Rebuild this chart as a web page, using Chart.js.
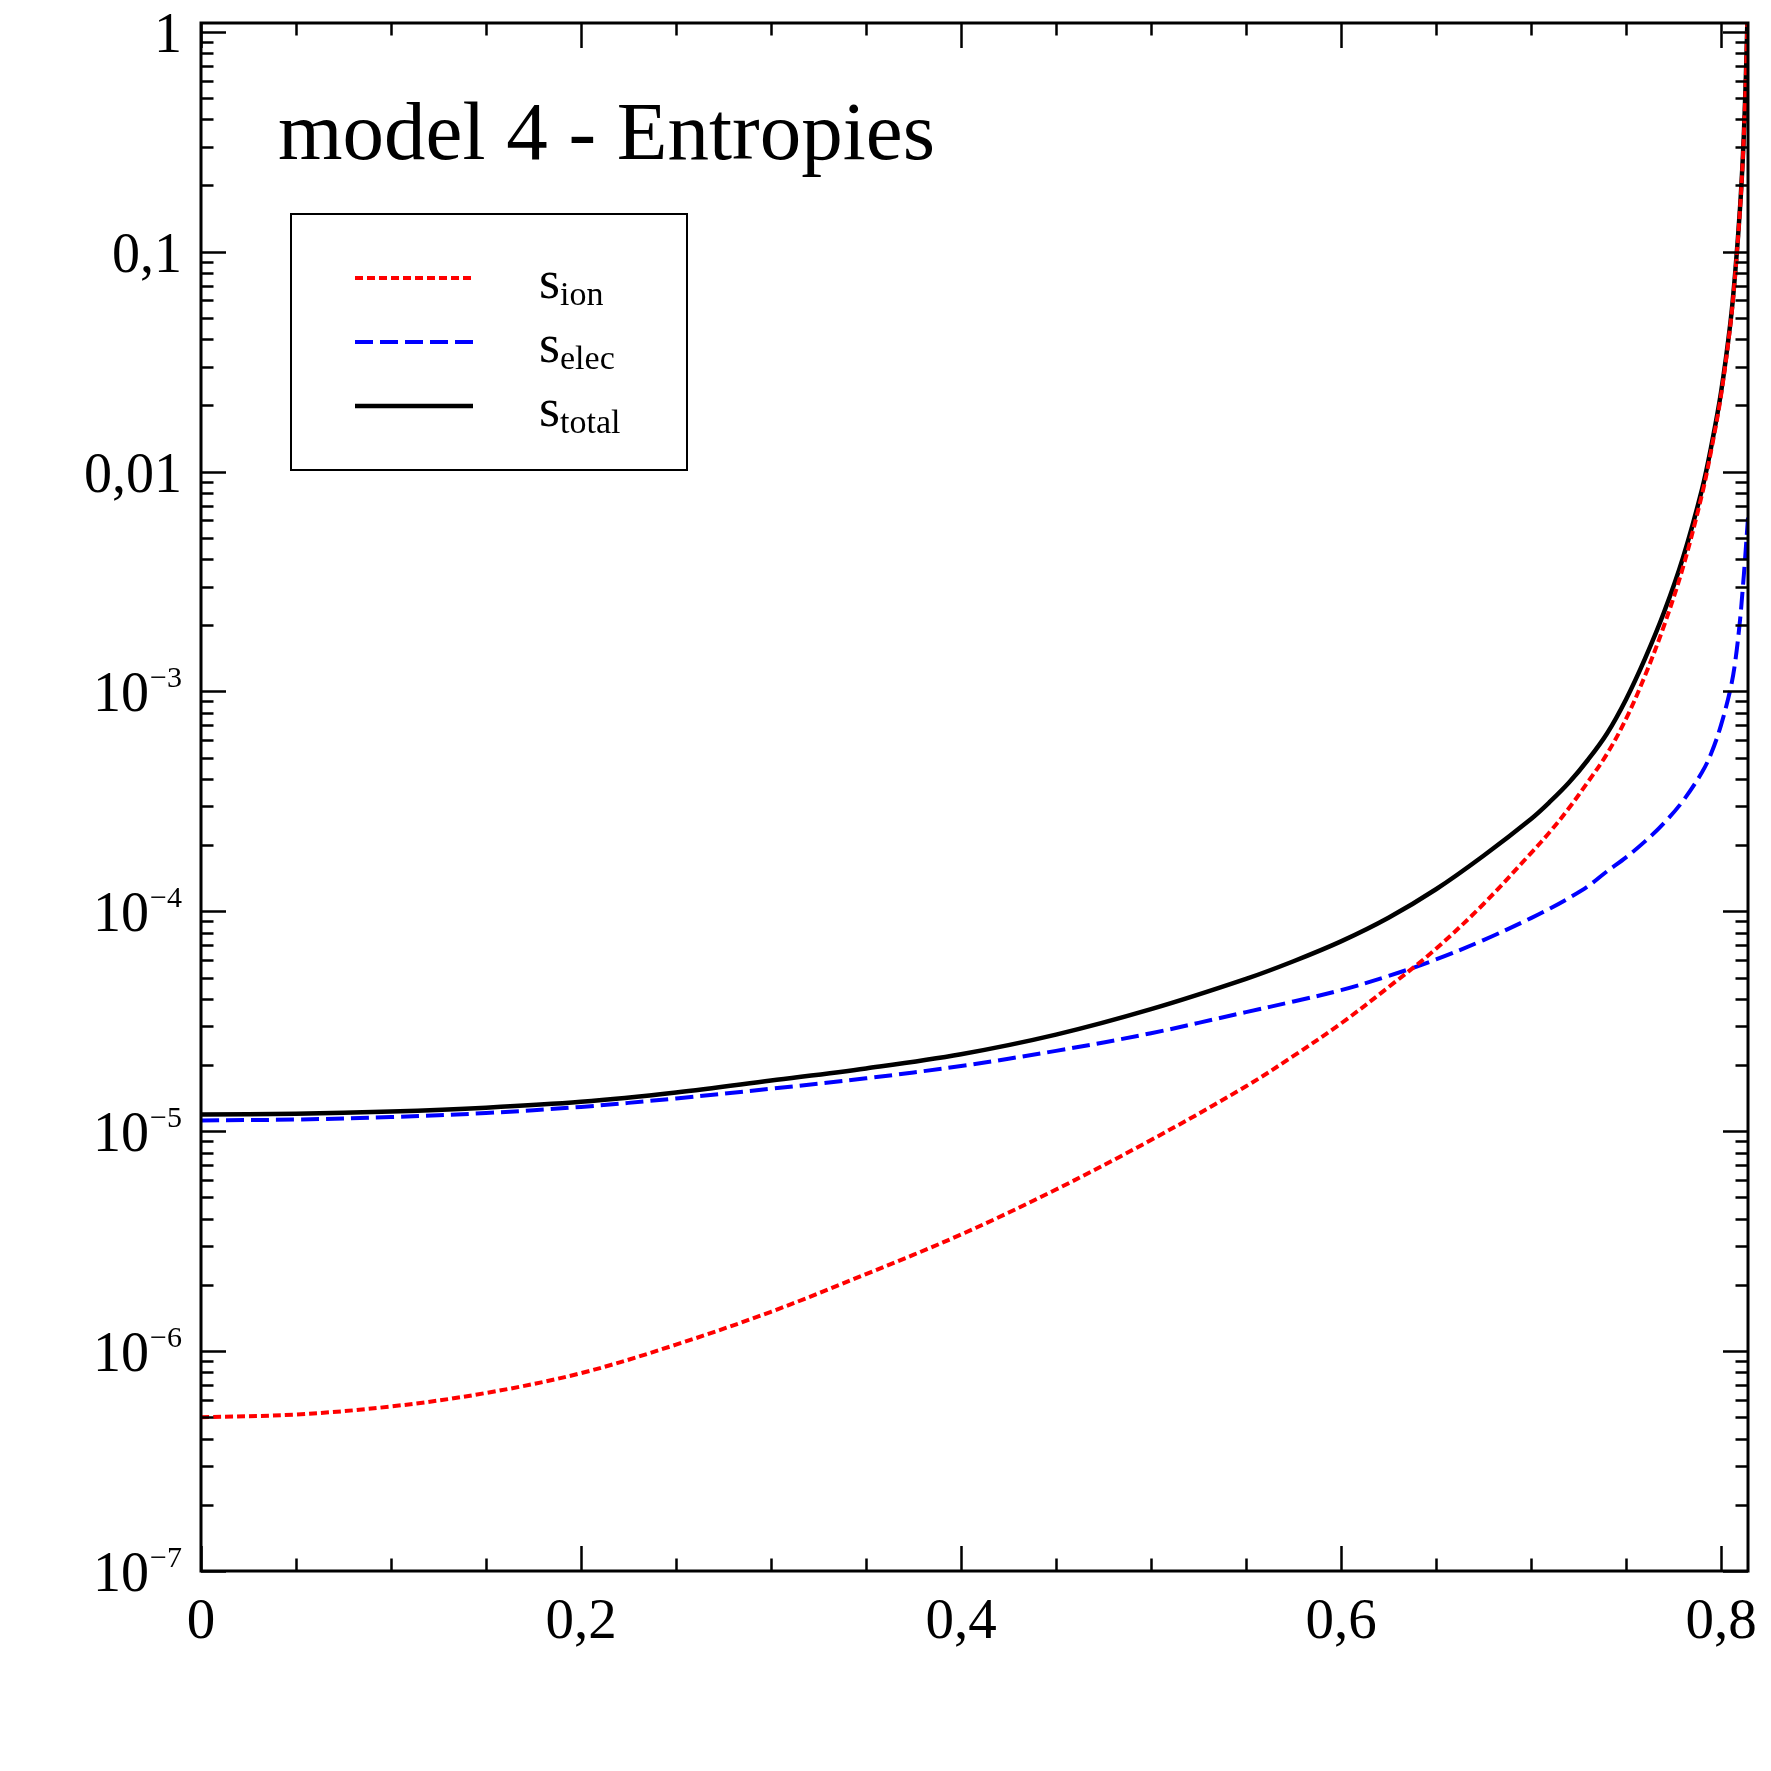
<!DOCTYPE html>
<html lang="en">

<head>
    <meta charset="UTF-8" />
    <title>model 4 - Entropies</title>
    <script src="https://cdn.jsdelivr.net/npm/chart.js"></script>
    <style>
        html, body {
            margin: 0;
            padding: 0;
            background: #fff;
        }

        #grafico {
            display: block;
            width: 1771px;
            height: 1771px;
        }
    </style>
</head>

<body>

    <canvas id="grafico" width="1771" height="1771"></canvas>

    <script>
        // valores
        const xValues = [0, 0.05, 0.1, 0.15, 0.2, 0.25, 0.3, 0.35, 0.4, 0.45, 0.5, 0.55, 0.575, 0.6, 0.625,
            0.65, 0.675, 0.7, 0.71, 0.72, 0.73, 0.74, 0.75, 0.76, 0.77, 0.78, 0.79, 0.795, 0.8, 0.805,
            0.8075, 0.81, 0.8115, 0.8125, 0.8135, 0.8142];

        const sIon = [5.0e-7, 5.15e-7, 5.6e-7, 6.45e-7, 7.94e-7, 1.07e-6, 1.51e-6, 2.24e-6, 3.39e-6, 5.43e-6,
            9.12e-6, 1.6e-5, 2.2e-5, 3.09e-5, 4.52e-5, 6.76e-5, 1.08e-4, 1.84e-4, 2.3e-4, 2.95e-4,
            3.88e-4, 5.2e-4, 7.5e-4, 1.18e-3, 1.99e-3, 3.67e-3, 7.87e-3, 0.0127, 0.0222, 0.047,
            0.0796, 0.156, 0.267, 0.436, 0.825, 1.47];

        const sElec = [1.12e-5, 1.13e-5, 1.16e-5, 1.21e-5, 1.29e-5, 1.41e-5, 1.56e-5, 1.74e-5, 1.98e-5, 2.32e-5,
            2.79e-5, 3.48e-5, 3.89e-5, 4.38e-5, 5.08e-5, 6.04e-5, 7.4e-5, 9.31e-5, 1.03e-4, 1.15e-4,
            1.3e-4, 1.52e-4, 1.76e-4, 2.08e-4, 2.52e-4, 3.18e-4, 4.29e-4, 5.27e-4, 7.03e-4, 1.03e-3,
            1.37e-3, 2.11e-3, 2.98e-3, 3.84e-3, 5.06e-3, 6.17e-3];

        const sTotal = [1.19e-5, 1.2e-5, 1.23e-5, 1.28e-5, 1.36e-5, 1.5e-5, 1.7e-5, 1.93e-5, 2.24e-5, 2.75e-5,
            3.59e-5, 4.93e-5, 5.93e-5, 7.3e-5, 9.35e-5, 1.26e-4, 1.79e-4, 2.63e-4, 3.15e-4, 3.85e-4,
            4.89e-4, 6.44e-4, 9.2e-4, 1.41e-3, 2.29e-3, 4.06e-3, 8.3e-3, 0.0132, 0.0229, 0.048,
            0.081, 0.158, 0.27, 0.44, 0.83, 1.48];

        const seriesSub = ['ion', 'elec', 'total'];

        const xTickValues = [0, 0.2, 0.4, 0.6, 0.8];
        const xTickLabels = ['0', '0,2', '0,4', '0,6', '0,8'];

        const yTickValues = [1, 0.1, 0.01, 1e-3, 1e-4, 1e-5, 1e-6, 1e-7];
        const yTickBase = ['1', '0,1', '0,01', '10', '10', '10', '10', '10'];
        const yTickExp = ['', '', '', '\u22123', '\u22124', '\u22125', '\u22126', '\u22127'];

        const tituloTexto = 'model 4 - Entropies';

        const estilos = [
            { color: '#ff0000', width: 4, dash: [8, 4] },
            { color: '#0000ff', width: 4, dash: [18, 7] },
            { color: '#000000', width: 4.5, dash: [] }
        ];

        const serif = '"Liberation Serif", "DejaVu Serif", serif';

        function puntos(ys) {
            return xValues.map((x, i) => ({ x: x, y: ys[i] }));
        }

        const marco = {
            id: 'marco',
            afterDraw(chart) {
                const c = chart.ctx;
                const a = chart.chartArea;
                const sx = chart.scales.x;
                const sy = chart.scales.y;

                c.save();
                c.strokeStyle = '#000';
                c.fillStyle = '#000';
                c.setLineDash([]);

                // ticks eje y (izquierda y derecha, hacia dentro)
                c.lineWidth = 2.5;
                for (let d = -7; d <= 0; d++) {
                    for (let k = 1; k <= 9; k++) {
                        const v = k * Math.pow(10, d);
                        if (v > sy.max) continue;
                        const py = Math.round(sy.getPixelForValue(v)) + 0.5;
                        const len = k === 1 ? 25 : 12.5;
                        c.beginPath();
                        c.moveTo(a.left, py);
                        c.lineTo(a.left + len, py);
                        c.moveTo(a.right, py);
                        c.lineTo(a.right - len, py);
                        c.stroke();
                    }
                }

                // ticks eje x (abajo y arriba)
                for (let i = 0; i <= 16; i++) {
                    const v = i * 0.05;
                    const px = Math.round(sx.getPixelForValue(v)) + 0.5;
                    const len = i % 4 === 0 ? 25 : 12.5;
                    c.beginPath();
                    c.moveTo(px, a.bottom);
                    c.lineTo(px, a.bottom - len);
                    c.moveTo(px, a.top);
                    c.lineTo(px, a.top + len);
                    c.stroke();
                }

                // marco
                c.lineWidth = 3;
                c.strokeRect(a.left, a.top, a.right - a.left, a.bottom - a.top);

                // etiquetas eje y
                c.textBaseline = 'alphabetic';
                c.textAlign = 'right';
                yTickValues.forEach((v, i) => {
                    const py = sy.getPixelForValue(v);
                    const xr = a.left - 19;
                    if (yTickExp[i]) {
                        c.font = '30px ' + serif;
                        c.fillText(yTickExp[i], xr, py - 4);
                        const w = c.measureText(yTickExp[i]).width;
                        c.font = '56px ' + serif;
                        c.fillText(yTickBase[i], xr - w - 1, py + 20);
                    } else {
                        c.font = '56px ' + serif;
                        c.fillText(yTickBase[i], xr, py + 20);
                    }
                });

                // etiquetas eje x
                c.textAlign = 'center';
                c.font = '57px ' + serif;
                xTickValues.forEach((v, i) => {
                    c.fillText(xTickLabels[i], sx.getPixelForValue(v), a.bottom + 67);
                });

                // titulo
                c.textAlign = 'left';
                c.font = '83px ' + serif;
                c.fillText(tituloTexto, 278, 159);

                // leyenda
                c.lineWidth = 2;
                c.strokeRect(291, 214, 396, 256);
                seriesSub.forEach((sub, i) => {
                    const ly = 278 + i * 64;
                    const e = estilos[i];
                    c.strokeStyle = e.color;
                    c.lineWidth = e.width;
                    c.setLineDash(e.dash);
                    c.beginPath();
                    c.moveTo(355, ly);
                    c.lineTo(473, ly);
                    c.stroke();
                    c.setLineDash([]);
                    c.font = '54px ' + serif;
                    c.fillText('s', 539, ly + 20);
                    const w = c.measureText('s').width;
                    c.font = '34px ' + serif;
                    c.fillText(sub, 539 + w, ly + 27);
                });

                c.restore();
            }
        };

        const ctx = document.getElementById('grafico').getContext('2d');
        const grafico = new Chart(ctx, {
            type: 'line',
            data: {
                datasets: [sIon, sElec, sTotal].map((ys, i) => ({
                    label: 's_' + seriesSub[i],
                    data: puntos(ys),
                    borderColor: estilos[i].color,
                    borderWidth: estilos[i].width,
                    borderDash: estilos[i].dash,
                    borderCapStyle: 'butt',
                    pointRadius: 0,
                    fill: false,
                    tension: 0.35
                }))
            },
            options: {
                responsive: false,
                animation: false,
                devicePixelRatio: 1,
                layout: { padding: { left: 201, right: 23, top: 23, bottom: 200 } },
                plugins: {
                    legend: { display: false },
                    title: { display: false },
                    tooltip: { enabled: false }
                },
                scales: {
                    x: { type: 'linear', min: 0, max: 0.8142, display: false },
                    y: { type: 'logarithmic', min: 1e-7, max: 1.096, display: false }
                }
            },
            plugins: [marco]
        });
    </script>

</body>

</html>
